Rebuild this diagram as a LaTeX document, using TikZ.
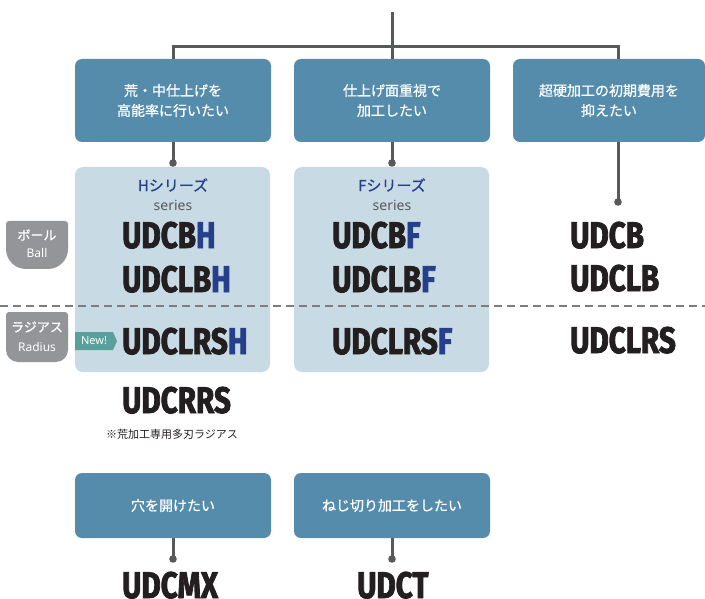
\documentclass[tikz,border=0pt]{standalone}
\usepackage{fontspec}
\setmainfont{Noto Sans CJK JP}
\newfontfamily\jp{Noto Sans CJK JP}
\newfontfamily\jpm[FakeBold=0.7]{Noto Sans CJK JP}
\newfontfamily\lat{Noto Sans}
\newfontfamily\udc[FakeStretch=0.8,FakeBold=2.2]{Fira Sans}
\definecolor{boxblue}{HTML}{568CAB}
\definecolor{lightbox}{HTML}{C8DBE4}
\definecolor{hblue}{HTML}{263F8A}
\definecolor{linegray}{HTML}{58595B}
\definecolor{tabgray}{HTML}{939598}
\definecolor{newteal}{HTML}{58A09C}
\definecolor{ink}{HTML}{231F20}
\definecolor{dashgray}{HTML}{7D7D7D}
\begin{document}
\begin{tikzpicture}[x=1pt,y=-1pt,
  qbox/.style={fill=boxblue, rounded corners=7pt, text=white, align=center,
    inner sep=0pt, minimum width=196pt, font=\jpm\fontsize{14}{20}\selectfont},
  serbox/.style={fill=lightbox, rounded corners=8pt, inner sep=0pt,
    minimum width=195pt, minimum height=205pt},
  conn/.style={draw=linegray, line width=3pt},
  dotc/.style={fill=linegray},
  prod/.style={anchor=base west, inner sep=0pt, text=ink,
    font=\udc\bfseries\fontsize{37}{37}\selectfont},
  sername/.style={inner sep=0pt, text=hblue, font=\jpm\fontsize{15}{15}\selectfont},
  sersub/.style={inner sep=0pt, text=linegray, font=\lat\fontsize{14}{14}\selectfont},
  tabtxt/.style={inner sep=0pt, text=white, font=\jpm\fontsize{13}{13}\selectfont},
  tabsub/.style={inner sep=0pt, text=white, font=\lat\fontsize{12}{12}\selectfont}]
\useasboundingbox (0,0) rectangle (705,599);

% question boxes
\node[qbox, minimum height=83pt] (b1) at (173,100.5) {荒・中仕上げを\\高能率に行いたい};
\node[qbox, minimum height=83pt] (b2) at (392,100.5) {仕上げ面重視で\\加工したい};
\node[qbox, minimum height=83pt, minimum width=192pt] (b3) at (609,100.5) {超硬加工の初期費用を\\抑えたい};
\node[qbox, minimum height=65pt] (b4) at (173,505.5) {穴を開けたい};
\node[qbox, minimum height=65pt] (b5) at (392,505.5) {ねじ切り加工をしたい};

% series boxes
\node[serbox] (hs) at (172.5,269.5) {};
\node[serbox] (fs) at (391.5,269.5) {};

% top tree
\coordinate (top) at (392,12);
\coordinate (jl) at (173,47);
\coordinate (jm) at (392,47);
\coordinate (jr) at (618,47);
\draw[conn] (top) -- (jm);
\draw[conn] ([xshift=-1.5pt]jl) -- ([xshift=1.5pt]jr);
\draw[conn] (jl) -- (b1.north);
\draw[conn] (jm) -- (b2.north);
\draw[conn] (jr) -- (jr |- b3.north);

% dots
\coordinate (d1) at (173,163);
\coordinate (d2) at (392,163);
\coordinate (d3) at (618,202);
\coordinate (d4) at (173,559);
\coordinate (d5) at (392,559);
\draw[conn] (b1.south) -- (d1);
\draw[conn] (b2.south) -- (d2);
\draw[conn] (b3.south -| d3) -- (d3);
\draw[conn] (b4.south) -- (d4);
\draw[conn] (b5.south) -- (d5);
\foreach \d in {d1,d2,d3,d4,d5} \fill[dotc] (\d) circle (3.8pt);

% dashed divider
\coordinate (dl) at (0,306);
\coordinate (dr) at (705,306);
\draw[dashgray, line width=1.2pt, dash pattern=on 8pt off 5pt] (dl) -- (dr);

% tabs
\fill[tabgray, rounded corners=3pt] (6,221) rectangle (68,250);
\fill[tabgray, rounded corners=20pt] (6,226) rectangle (68,269);
\fill[tabgray, rounded corners=3pt] (6,312) rectangle (68,340);
\fill[tabgray, rounded corners=12pt] (6,317) rectangle (68,362);
\node[tabtxt] (ballj) at (37,235) {ボール};
\node[tabsub] (balle) at (37,253) {Ball};
\node[tabtxt] (radj) at (37,327) {ラジアス};
\node[tabsub] (rade) at (37,347) {Radius};

% series titles
\node[sername] (hn) at (173,185) {Hシリーズ};
\node[sersub] (hse) at (173,205) {series};
\node[sername] (fn) at (392,185) {Fシリーズ};
\node[sersub] (fse) at (392,205) {series};

% products
\node[prod] (p1) at (122,248) {UDCB\textcolor{hblue}{H}};
\node[prod] (p2) at (122,292) {UDCLB\textcolor{hblue}{H}};
\node[prod] (p3) at (122,354) {UDCLRS\textcolor{hblue}{H}};
\node[prod] (p4) at (122,413) {UDCRRS};
\node[inner sep=0pt, text=ink, font=\jp\fontsize{11}{11}\selectfont] (note) at (172,434) {※荒加工専用多刃ラジアス};
\node[prod] (p5) at (332,248) {UDCB\textcolor{hblue}{F}};
\node[prod] (p6) at (332,292) {UDCLB\textcolor{hblue}{F}};
\node[prod] (p7) at (332,354) {UDCLRS\textcolor{hblue}{F}};
\node[prod] (p8) at (570,248) {UDCB};
\node[prod] (p9) at (570,291) {UDCLB};
\node[prod] (p10) at (570,353) {UDCLRS};
\node[prod] (p11) at (122,598) {UDCMX};
\node[prod] (p12) at (357,598) {UDCT};

% New! tag
\fill[newteal] (75,332) -- (113,332) -- (117,341) -- (113,350) -- (75,350) -- cycle;
\node[inner sep=0pt, text=white, font=\lat\fontsize{11}{11}\selectfont] (newt) at (94,341) {New!};
\end{tikzpicture}
\end{document}
